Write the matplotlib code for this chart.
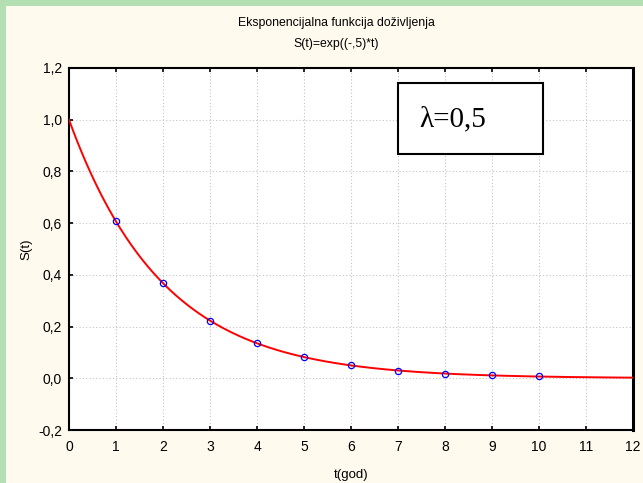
import numpy as np
import matplotlib
matplotlib.use("Agg")
import matplotlib.pyplot as plt
from matplotlib.ticker import FuncFormatter
from matplotlib.patches import Rectangle

# podaci
lam = 0.5
t_tocke = [1, 2, 3, 4, 5, 6, 7, 8, 9, 10]
s_tocke = [0.607, 0.368, 0.223, 0.135, 0.082, 0.050, 0.030, 0.018, 0.011, 0.007]
x_ticks = [0, 1, 2, 3, 4, 5, 6, 7, 8, 9, 10, 11, 12]
y_ticks = [-0.2, 0.0, 0.2, 0.4, 0.6, 0.8, 1.0, 1.2]

plt.rcParams["font.family"] = ["Liberation Sans", "DejaVu Sans"]

fig = plt.figure(figsize=(6.43, 4.83), dpi=100)
fig.patch.set_facecolor("#fffaee")

# zeleni rub gore i lijevo
fig.patches.append(Rectangle((0, 1 - 6 / 483), 1, 6 / 483, transform=fig.transFigure,
                             facecolor="#b3dfb3", edgecolor="none", zorder=0))
fig.patches.append(Rectangle((0, 0), 6 / 643, 1, transform=fig.transFigure,
                             facecolor="#b3dfb3", edgecolor="none", zorder=0))

ax = fig.add_axes([69 / 643, 53 / 483, 564 / 643, 362 / 483])
ax.set_facecolor("white")

t = np.linspace(0, 12, 400)
ax.plot(t, np.exp(-lam * t), color="#ff0000", lw=1.4, zorder=3)
ax.plot(t_tocke, s_tocke, "o", ms=4.5, mfc="none", mec="#0000ff", mew=0.9, zorder=4)

ax.set_xlim(0, 12)
ax.set_ylim(-0.2, 1.2)
ax.set_xticks(x_ticks)
ax.set_yticks(y_ticks)
fmt = FuncFormatter(lambda v, p: ("%.1f" % v).replace(".", ",") if abs(v) > 1e-9 else "0,0")
ax.yaxis.set_major_formatter(fmt)
ax.grid(True, color="#c4c4c4", ls=(0, (1, 2)), lw=0.8)
ax.tick_params(direction="in", length=3, width=1.2, top=True, right=False, labelsize=10)
ax.tick_params(axis="x", pad=7)
ax.tick_params(axis="y", pad=5)
for s in ax.spines.values():
    s.set_linewidth(1.5)
ax.spines["right"].set_linewidth(2.2)

ax.set_xlabel("t(god)", fontsize=9.5, labelpad=11)
ax.set_ylabel("S(t)", fontsize=9.5, labelpad=4)

fig.text(0.523, 1 - 23 / 483, "Eksponencijalna funkcija doživljenja", ha="center", va="center", fontsize=8.8)
fig.text(0.523, 1 - 44 / 483, "S(t)=exp((-,5)*t)", ha="center", va="center", fontsize=8.8)

# okvir s lambda
ax.add_patch(Rectangle((7.0, 0.867), 3.09, 0.275, facecolor="white", edgecolor="black",
                       lw=1.5, zorder=5))
ax.text(7.45, 1.0, "λ=0,5", fontsize=21, family=["Liberation Serif", "DejaVu Serif"],
        va="center", ha="left", zorder=6)

fig.savefig("out.png", dpi=100, facecolor=fig.get_facecolor())
